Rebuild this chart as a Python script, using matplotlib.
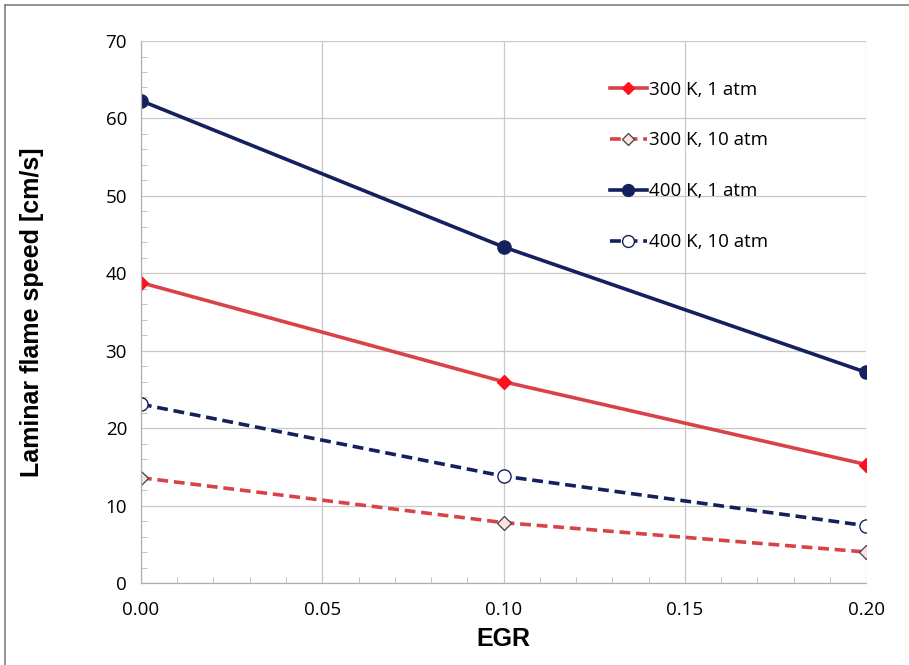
import matplotlib
matplotlib.use("Agg")
import matplotlib.pyplot as plt
from matplotlib.lines import Line2D
from matplotlib.ticker import MultipleLocator

# data
egr = [0.0, 0.1, 0.2]
s_300_1 = [38.8, 26.0, 15.3]
s_300_10 = [13.6, 7.8, 4.0]
s_400_1 = [62.3, 43.4, 27.2]
s_400_10 = [23.1, 13.8, 7.4]
labels = ["300 K, 1 atm", "300 K, 10 atm", "400 K, 1 atm", "400 K, 10 atm"]

red_line = "#d8434a"
red_mark = "#ff1020"
navy = "#15205e"

fig = plt.figure(figsize=(9.09, 6.65), dpi=100)
ax = fig.add_axes([0.155, 0.1233, 0.798, 0.815])

ax.plot(egr, s_300_1, color=red_line, lw=2.6, marker="D", ms=7,
        mfc=red_mark, mec=red_mark, label=labels[0])
ax.plot(egr, s_300_10, color=red_line, lw=2.6, ls=(0, (3, 1.6)), marker="D", ms=7,
        mfc="#fbe3e3", mec="#404040", mew=0.9, label=labels[1])
ax.plot(egr, s_400_1, color=navy, lw=2.6, marker="o", ms=9.5,
        mfc=navy, mec=navy, label=labels[2])
ax.plot(egr, s_400_10, color=navy, lw=2.6, ls=(0, (3, 1.6)), marker="o", ms=9.5,
        mfc="white", mec=navy, mew=1.0, label=labels[3])

ax.set_xlim(0, 0.2)
ax.set_ylim(0, 70)
ax.xaxis.set_major_locator(MultipleLocator(0.05))
ax.yaxis.set_major_locator(MultipleLocator(10))
ax.xaxis.set_minor_locator(MultipleLocator(0.01))
ax.yaxis.set_minor_locator(MultipleLocator(2))
ax.xaxis.set_major_formatter(matplotlib.ticker.FormatStrFormatter("%.2f"))
ax.grid(True, which="major", color="#c8c8c8", lw=0.9)
ax.set_axisbelow(True)
for s in ["top", "right"]:
    ax.spines[s].set_visible(False)
for s in ["left", "bottom"]:
    ax.spines[s].set_color("#b0b0b0")
    ax.spines[s].set_linewidth(0.9)
ax.tick_params(which="major", length=0, labelsize=13.5, pad=10)
ax.tick_params(axis="x", which="major", pad=13)
ax.tick_params(which="minor", direction="in", length=4, color="#b8b8b8")
for t in ax.get_xticklabels() + ax.get_yticklabels():
    t.set_fontfamily("Open Sans")

ax.set_xlabel("EGR", fontsize=18, fontweight="bold", family="Liberation Sans", labelpad=6)
ax.set_ylabel("Laminar flame speed [cm/s]", fontsize=18, fontweight="bold",
              family="Liberation Sans", labelpad=44)

leg = ax.legend(loc="upper left", bbox_to_anchor=(0.623, 0.958), frameon=False,
                prop={"family": "Open Sans", "size": 13.5}, labelspacing=1.75,
                handlelength=2.0, handletextpad=0.1, markerscale=0.9)

# figure border (top and left visible in the reference)
fig.add_artist(Line2D([0.0055, 0.9995], [0.9925, 0.9925], color="#808080", lw=1.2))
fig.add_artist(Line2D([0.0055, 0.0055], [0.0, 0.9925], color="#808080", lw=1.2))

fig.savefig("out.png", dpi=100)
